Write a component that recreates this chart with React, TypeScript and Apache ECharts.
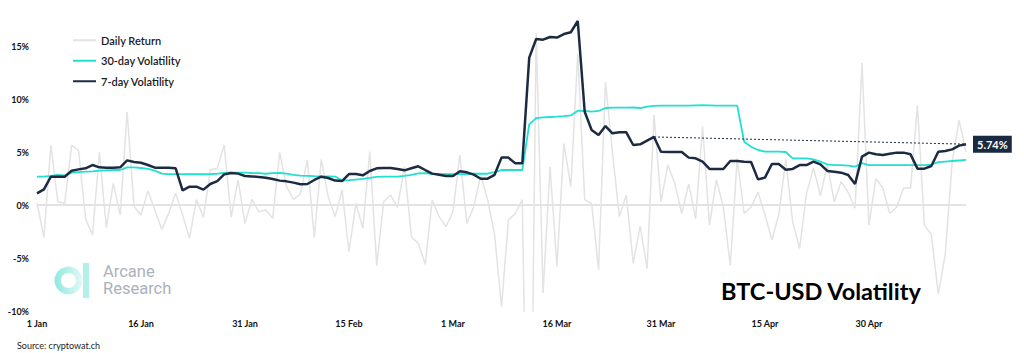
import React, { useEffect, useRef } from 'react';
import * as echarts from 'echarts';

const MONTHS = ['Jan', 'Feb', 'Mar', 'Apr', 'May'];
const DAYS_SHOWN = [31, 29, 31, 30, 14];
const dates: string[] = [];
DAYS_SHOWN.forEach((n, m) => {
  for (let d = 1; d <= n; d++) dates.push(`${d} ${MONTHS[m]}`);
});

const dailyReturn = [
  0.2, -3.05, 5.66, 0.31, 0.16, 5.66, 5.13, -1.26, -2.83, 4.97,
  -2.14, 2.04, -0.94, 8.8, -0.16, -0.94, 1.35, -0.47, -2.3, -0.79,
  1.1, -0.94, -3.14, 0.53, -1.16, 3.3, 3.46, 5.66, -1.16, 2.36,
  -1.73, 0.53, -0.63, -0.47, -1.26, 4.97, 1.73, 0.53, 1.04, 4.25,
  -3.08, 4.31, 0.79, -1.1, 1.42, -4.4, 0.16, -2.2, 5.03, -5.72,
  0.31, 0.94, -0.22, 3.62, -2.99, -3.62, -5.6, 0.47, -1.1, -2.04,
  -0.63, 4.72, -1.73, -0.16, 2.8, 0.5, -2.8, -9.6, -1.4, -0.8,
  0.5, -39.0, 16.2, -8.3, 3.6, -5.8, 5.8, 1.7, 14.3, 0.5,
  0.1, -6.1, 11.6, 5.0, -1.1, 0.94, -5.5, -2.0, -6.0, 8.5,
  0.3, 3.8, 2.0, -0.8, 2.0, -1.3, 7.4, -1.9, 2.4, -0.2,
  -5.7, 4.4, -0.8, -0.2, 1.2, -0.9, -3.3, -0.9, 4.3, -1.6,
  -4.1, 1.1, 3.5, 0.9, 3.8, 0.3, 2.2, 1.2, -0.3, 13.4,
  -1.9, 2.5, 1.6, -0.8, -0.2, 1.6, 1.6, 9.4, -1.9, -2.8,
  -8.4, -4.7, 4.0, 8.0, 5.0,
];

const vol30 = [
  2.67, 2.67, 2.74, 2.83, 2.8, 3.05, 3.11, 3.14, 3.18, 3.24,
  3.27, 3.3, 3.3, 3.55, 3.55, 3.49, 3.4, 3.24, 2.96, 2.92,
  2.92, 2.92, 2.9, 2.9, 2.9, 2.92, 2.95, 3.02, 3.05, 3.05,
  3.05, 3.02, 3.0, 2.95, 3.0, 3.02, 2.95, 2.85, 2.78, 2.75,
  2.72, 2.7, 2.7, 2.68, 2.3, 2.34, 2.4, 2.46, 2.55, 2.65,
  2.68, 2.68, 2.68, 2.75, 2.85, 2.98, 3.0, 2.95, 2.92, 2.92,
  2.92, 2.92, 2.92, 2.95, 2.95, 2.95, 3.1, 3.3, 3.3, 3.3,
  3.3, 7.6, 8.2, 8.27, 8.3, 8.33, 8.38, 8.45, 8.9, 8.87,
  8.8, 8.87, 9.15, 9.18, 9.18, 9.18, 9.2, 9.15, 9.28, 9.35,
  9.37, 9.37, 9.37, 9.37, 9.37, 9.4, 9.43, 9.4, 9.37, 9.37,
  9.37, 9.37, 5.97, 5.5, 5.19, 5.03, 5.03, 5.03, 5.0, 4.4,
  4.4, 4.4, 4.3, 4.09, 3.84, 3.77, 3.77, 3.72, 3.62, 3.95,
  3.77, 3.77, 3.77, 3.77, 3.77, 3.77, 3.77, 3.77, 3.77, 3.8,
  4.05, 4.1, 4.15, 4.2, 4.25,
];

const vol7 = [
  1.1, 1.48, 2.67, 2.67, 2.67, 3.24, 3.36, 3.46, 3.77, 3.55,
  3.52, 3.52, 3.55, 4.21, 4.06, 3.99, 3.77, 3.52, 3.52, 3.52,
  3.46, 1.38, 1.73, 1.73, 1.45, 1.98, 2.26, 2.89, 3.02, 2.96,
  2.74, 2.7, 2.64, 2.58, 2.45, 2.3, 2.23, 2.11, 1.95, 1.98,
  2.36, 2.67, 2.55, 2.3, 2.26, 2.92, 2.92, 2.8, 3.21, 3.46,
  3.49, 3.49, 3.4, 3.27, 3.46, 3.65, 3.3, 2.96, 2.86, 2.74,
  2.74, 3.18, 3.08, 2.86, 2.48, 2.48, 2.85, 4.47, 4.47, 3.93,
  3.93, 13.9, 15.66, 15.6, 15.85, 15.8, 16.13, 16.3, 17.36, 8.8,
  7.08, 6.6, 7.45, 6.76, 6.86, 6.86, 5.66, 5.72, 6.07, 6.42,
  5.03, 5.0, 5.0, 5.0, 4.47, 4.4, 4.09, 3.4, 3.4, 3.4,
  4.15, 4.15, 4.09, 4.06, 2.42, 2.58, 3.87, 3.87, 3.33, 3.4,
  3.77, 3.77, 4.09, 3.84, 3.21, 3.14, 3.05, 2.83, 1.98, 4.56,
  4.94, 4.78, 4.72, 4.84, 4.94, 4.94, 4.78, 3.43, 3.43, 3.68,
  5.03, 5.09, 5.25, 5.6, 5.74,
];

const yTicks = [-10, -5, 0, 5, 10, 15];
const refStartIndex = 89;

const FONT = 'Lato, "Open Sans", sans-serif';

export default function App() {
  const ref = useRef<HTMLDivElement>(null);
  useEffect(() => {
    if (!ref.current) return;
    const chart = echarts.init(ref.current, undefined, { renderer: 'svg' });
    const last = vol7.length - 1;
    chart.setOption({
      animation: false,
      backgroundColor: '#ffffff',
      textStyle: { fontFamily: FONT },
      grid: { left: 37, right: 58, top: 19.5, bottom: 42, containLabel: false },
      legend: {
        orient: 'vertical',
        left: 68,
        top: 25,
        itemWidth: 23,
        itemHeight: 2,
        itemGap: 0,
        icon: 'rect',
        textStyle: { fontFamily: FONT, fontSize: 11, fontWeight: 600, color: '#1a1a1a', lineHeight: 20.5 },
        data: ['Daily Return', '30-day Volatility', '7-day Volatility'],
      },
      xAxis: {
        type: 'category',
        data: dates,
        boundaryGap: false,
        axisLine: { show: false },
        axisTick: { show: false },
        splitLine: { show: false },
        axisLabel: {
          interval: 14,
          margin: 8,
          fontSize: 9,
          fontWeight: 'bold',
          color: '#111',
          fontFamily: FONT,
        },
      },
      yAxis: {
        type: 'value',
        min: yTicks[0],
        max: 17.5,
        interval: 5,
        axisLine: { show: false },
        axisTick: { show: false },
        splitLine: { show: false },
        axisLabel: {
          margin: 8,
          fontSize: 9,
          fontWeight: 'bold',
          color: '#111',
          fontFamily: FONT,
          formatter: (v: number) => (yTicks.includes(v) ? `${v}%` : ''),
        },
      },
      series: [
        {
          name: 'Daily Return',
          type: 'line',
          data: dailyReturn,
          symbol: 'none',
          clip: true,
          lineStyle: { color: '#e3e3e3', width: 1.5 },
          itemStyle: { color: '#e3e3e3' },
          z: 1,
          markLine: {
            silent: true,
            symbol: 'none',
            label: { show: false },
            lineStyle: { color: '#e3e3e3', width: 2, type: 'solid' },
            data: [{ yAxis: 0 }],
          },
        },
        {
          name: '30-day Volatility',
          type: 'line',
          data: vol30,
          symbol: 'none',
          lineStyle: { color: '#22e0d0', width: 1.8 },
          itemStyle: { color: '#22e0d0' },
          z: 2,
        },
        {
          name: '7-day Volatility',
          type: 'line',
          data: vol7,
          symbol: 'none',
          lineStyle: { color: '#1c2b42', width: 2.5 },
          itemStyle: { color: '#1c2b42' },
          z: 3,
          endLabel: {
            show: true,
            distance: 7,
            formatter: (p: any) => `${Number(p.value).toFixed(2)}%`,
            backgroundColor: '#1a2a40',
            color: '#ffffff',
            fontFamily: FONT,
            fontWeight: 'bold',
            fontSize: 11,
            padding: [3, 4, 3, 4],
          },
          markLine: {
            silent: true,
            symbol: 'none',
            label: { show: false },
            lineStyle: { color: '#1c2b42', width: 1, type: [2, 2] },
            data: [
              [
                { coord: [dates[refStartIndex], vol7[refStartIndex]] },
                { coord: [dates[last], vol7[last]] },
              ],
            ],
          },
        },
      ],
      graphic: [
        {
          type: 'ring',
          shape: { cx: 68.5, cy: 280.5, r: 14, r0: 7.5 },
          style: {
            fill: new echarts.graphic.LinearGradient(0, 0, 1, 0, [
              { offset: 0, color: '#8fe9e0' },
              { offset: 1, color: '#e2f9f6' },
            ]),
          },
          z: 0,
        },
        {
          type: 'rect',
          shape: { x: 83, y: 263, width: 6, height: 35 },
          style: { fill: '#b4f0ea' },
          z: 0,
        },
        {
          type: 'text',
          x: 103,
          y: 271,
          style: { text: 'Arcane', fontFamily: 'Roboto, sans-serif', fontSize: 16.5, lineHeight: 16, fill: '#aab2bb', verticalAlign: 'middle' },
          z: 0,
        },
        {
          type: 'text',
          x: 103,
          y: 288,
          style: { text: 'Research', fontFamily: 'Roboto, sans-serif', fontSize: 16.5, lineHeight: 16, fill: '#aab2bb', verticalAlign: 'middle' },
          z: 0,
        },
        {
          type: 'text',
          x: 721,
          y: 291,
          style: { text: 'BTC-USD Volatility', fontFamily: FONT, fontWeight: 'bold', fontSize: 23.5, fill: '#000000', verticalAlign: 'middle' },
          z: 10,
        },
        {
          type: 'text',
          x: 17,
          y: 345,
          style: { text: 'Source: cryptowat.ch', fontFamily: FONT, fontSize: 9, fill: '#222222', verticalAlign: 'middle' },
          z: 10,
        },
      ],
    });
    return () => chart.dispose();
  }, []);
  return (
    <div
      ref={ref}
      style={{ position: 'absolute', left: 0, top: 0, width: 1024, height: 353, background: '#fff' }}
    />
  );
}
